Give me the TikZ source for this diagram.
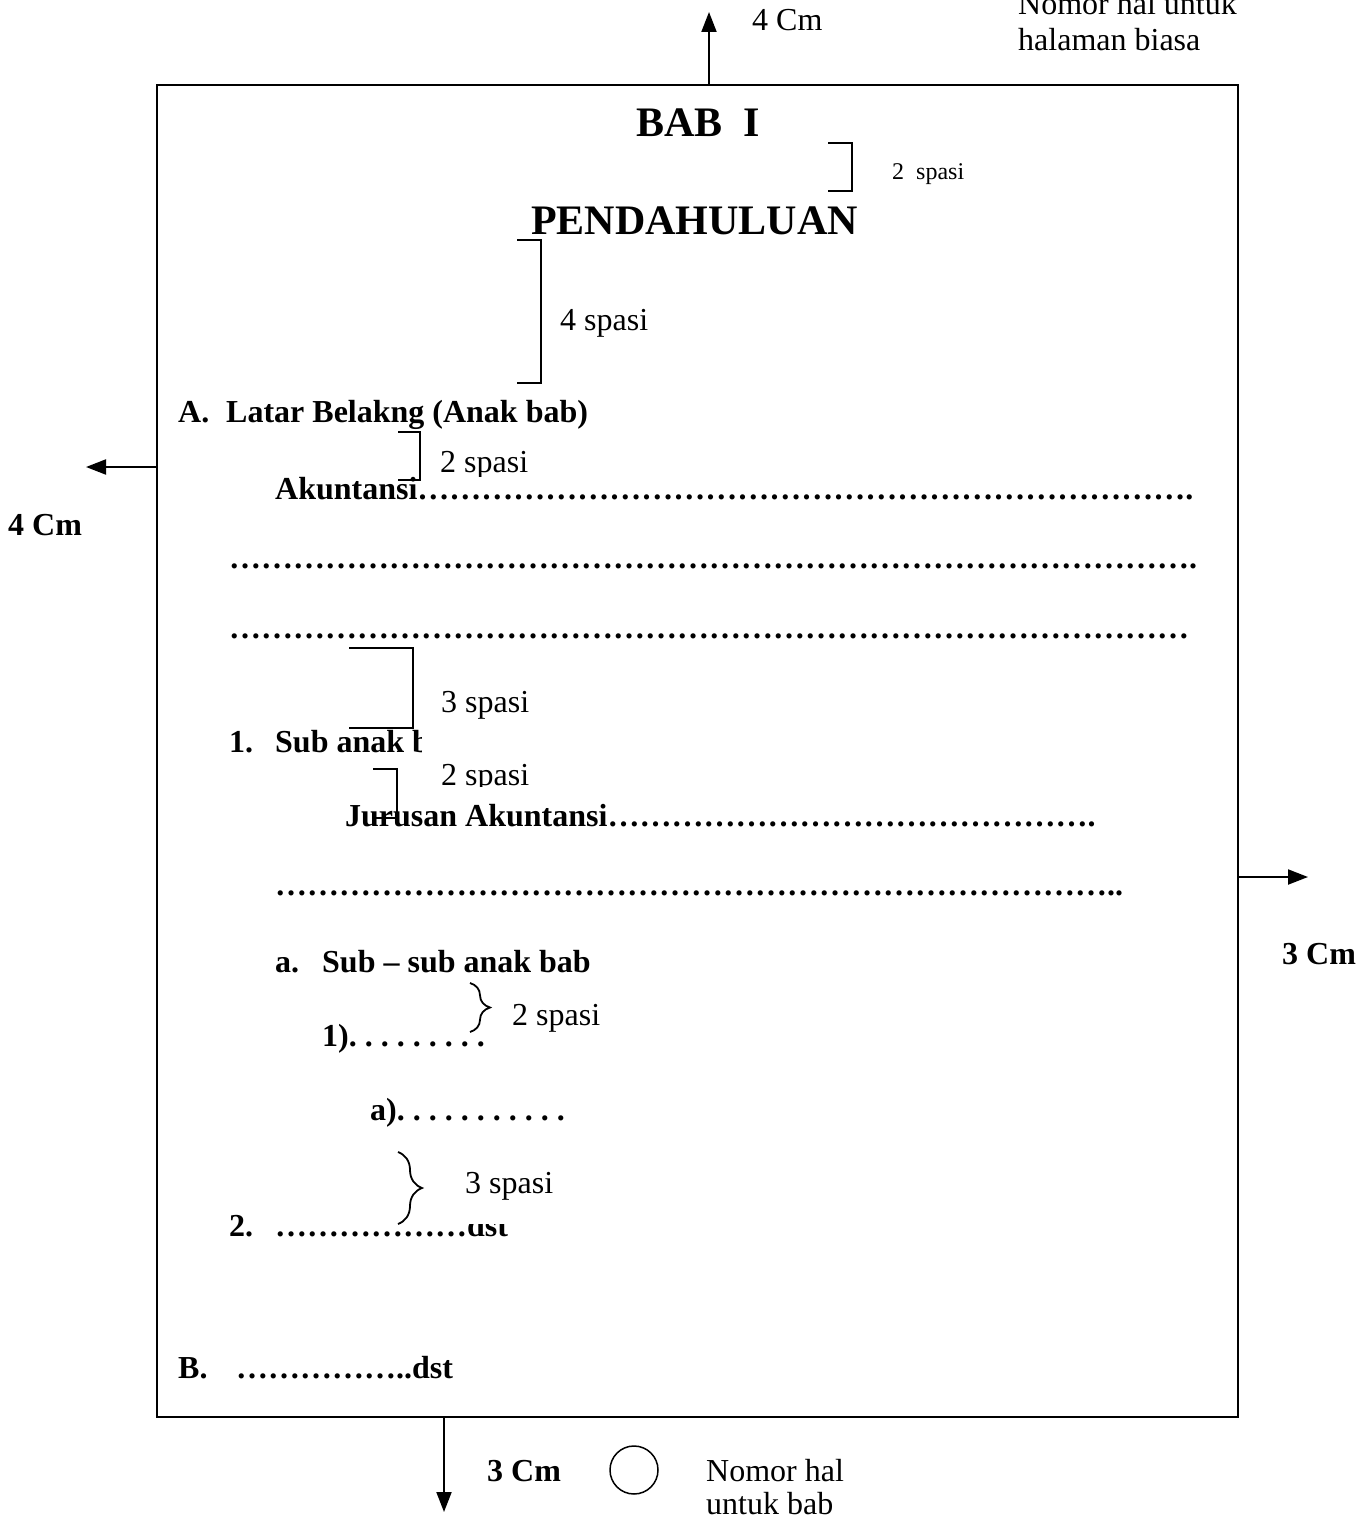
\documentclass[tikz,border=0pt]{standalone}
\usepackage{fontspec}
\setmainfont{Liberation Serif}
\usetikzlibrary{arrows.meta,decorations.pathreplacing}
\frenchspacing
% a run of ellipsis characters
\newcommand{\ellrun}[1]{\foreach \k in {1,...,#1}{…}}

\begin{document}
\begin{tikzpicture}[x=1pt,y=-1pt,
  txt/.style={inner sep=0pt, anchor=base west, font=\fontsize{32}{36}\selectfont},
  bold/.style={txt, font=\fontsize{32}{36}\selectfont\bfseries},
  head/.style={txt, font=\fontsize{42}{48}\selectfont\bfseries},
  small/.style={txt, font=\fontsize{24}{28}\selectfont},
  marg/.style={-{Triangle[length=20pt,width=15pt]}, line width=2pt},
  bracket/.style={line width=1.6pt},
  curly/.style={line width=1.8pt, decorate, decoration={brace, amplitude=#1}}]

\path[use as bounding box] (0,0) rectangle (1368,1517);

% ------------------------------------------------------------------ page frame
\node[draw, line width=2pt, minimum width=1081pt, minimum height=1332pt, inner sep=0pt]
  (page) at (697.5,751) {};

% margins
\coordinate (topend) at (709,12);
\coordinate (leftend) at (86,467);
\coordinate (rightend) at (1308,877);
\coordinate (botend) at (444,1512);
\draw[marg] (page.north -| topend) -- (topend);
\draw[marg] (page.west |- leftend) -- (leftend);
\draw[marg] (page.east |- rightend) -- (rightend);
\draw[marg] (page.south -| botend) -- (botend);

\node[txt] (mtop) at (752,31) {4 Cm};
\node[bold] (mleft) at (8,535) {4 Cm};
\node[bold] (mright) at (1282,964) {3 Cm};
\node[bold] (mbot) at (487,1481) {3 Cm};

% page numbers
\node[txt] (pnum1) at (1018,15) {Nomor hal untuk};
\node[txt] (pnum2) at (1018,51) {halaman biasa};
\node[circle, draw, line width=1.5pt, minimum size=48pt, inner sep=0pt] (numbox) at (634,1470) {};
\node[txt] (bnum1) at (706,1481) {Nomor hal};
\node[txt] (bnum2) at (706,1514) {untuk bab};

% ------------------------------------------------------------------ headings
\node[head] (bab) at (636,137) {BAB\ \ I};
\node[head] (judul) at (531,234) {PENDAHULUAN};
\draw[bracket] (828,143) -- (852,143) -- (852,191) -- (828,191);
\node[small] (sp1) at (892,179) {2\ \ spasi};
\draw[bracket] (517,240) -- (541,240) -- (541,383) -- (517,383);
\node[txt] (sp2) at (560,330) {4 spasi};

% ------------------------------------------------------------------ anak bab
\node[bold] (la) at (178,422) {A.};
\node[bold] (latar) at (226,422) {Latar Belakng (Anak bab)};
\begin{scope}
  \clip (430,440) rectangle (560,476);
  \node[txt] (sp3) at (440,472) {2 spasi};
\end{scope}
\node[bold] (akt) at (275,499) {Akuntansi\ellrun{24}.};
\draw[bracket] (398,432) -- (420,432) -- (420,480) -- (398,480);
\node[bold] (dot1) at (229,568) {\ellrun{30}.};
\node[bold] (dot2) at (229,638) {\ellrun{30}};

% ------------------------------------------------------------------ sub anak bab
\draw[bracket] (349,648) -- (413,648) -- (413,728) -- (349,728);
\node[txt] (sp4) at (441,712) {3 spasi};
\node[bold] (l1) at (229,752) {1.};
\begin{scope}
  \clip (270,720) rectangle (421,770);
  \node[bold] (sub) at (275,752) {Sub anak bab};
\end{scope}
\begin{scope}
  \clip (430,755) rectangle (560,786);
  \node[txt] (sp5) at (441,785) {2 spasi};
\end{scope}
\node[bold] (jur) at (345,826) {Jurusan Akuntansi\ellrun{15}.};
\draw[bracket] (373,769) -- (397,769) -- (397,818) -- (373,818);
\node[bold] (dot3) at (275,895) {\ellrun{26}..};

% ------------------------------------------------------------------ sub-sub anak bab
\node[bold] (la2) at (275,972) {a.};
\node[bold] (subsub) at (322,972) {Sub – sub anak bab};
\draw[curly=20pt] (470,983) -- (470,1032);
\node[txt] (sp6) at (512,1025) {2 spasi};
\node[bold] (i1) at (322,1046) {1). . . . . . . . .};
\node[bold] (ia) at (370,1120) {a). . . . . . . . . . .};
\draw[curly=24pt] (398,1152) -- (398,1224);
\node[txt] (sp7) at (465,1193) {3 spasi};
\node[bold] (l2) at (229,1236) {2.};
\begin{scope}
  \clip (270,1224) rectangle (600,1260);
  \node[bold] (dst1) at (275,1236) {\ellrun{6}dst};
\end{scope}

\node[bold] (lb) at (178,1378) {B.};
\node[bold] (dst2) at (236,1378) {\ellrun{5}..dst};
\end{tikzpicture}
\end{document}
